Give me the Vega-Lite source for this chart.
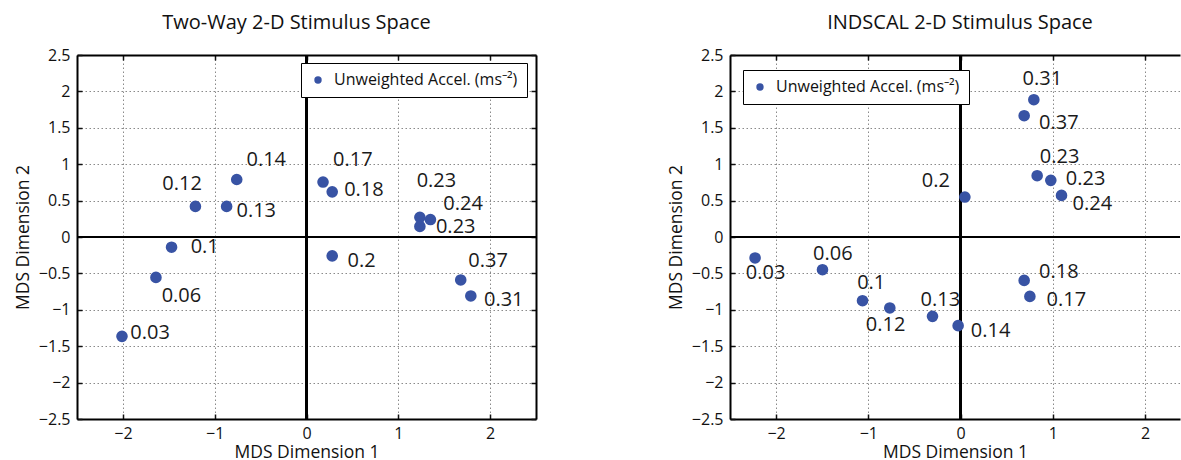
{
  "$schema": "https://vega.github.io/schema/vega-lite/v6.json",
  "padding": {"left": 14, "top": 13, "right": 0, "bottom": 0},
  "bounds": "flush",
  "spacing": 194,
  "config": {
    "font": "Open Sans",
    "view": {"stroke": null},
    "title": {"fontSize": 20, "fontWeight": "normal", "color": "#111", "font": "Open Sans", "offset": 14},
    "axis": {
      "labelFont": "Open Sans", "labelFontSize": 16, "labelColor": "#111",
      "titleFont": "Open Sans", "titleFontSize": 17.5, "titleFontWeight": "normal", "titleColor": "#111",
      "domainColor": "#000", "domainWidth": 2, "tickColor": "#111", "tickWidth": 1.5,
      "gridColor": "#8a8a8a", "gridDash": [1.5, 2.5], "gridWidth": 1, "gridOpacity": 1,
      "labelFlush": false, "labelOverlap": false, "format": "~g"
    },
    "legend": {
      "labelFont": "Open Sans", "labelFontSize": 16, "labelColor": "#111", "labelLimit": 0,
      "strokeColor": "#000", "fillColor": "#fff", "padding": 9, "symbolSize": 55,
      "symbolType": "circle", "labelOffset": 8, "titlePadding": 0
    }
  },
  "datasets": {
    "twoway": [
      {"label": "0.03", "x": -2.01, "y": -1.365, "lx": -1.919, "ly": -1.317, "series": "Unweighted Accel. (ms⁻²)"},
      {"label": "0.06", "x": -1.64, "y": -0.555, "lx": -1.578, "ly": -0.804, "series": "Unweighted Accel. (ms⁻²)"},
      {"label": "0.1", "x": -1.47, "y": -0.14, "lx": -1.262, "ly": -0.14, "series": "Unweighted Accel. (ms⁻²)"},
      {"label": "0.12", "x": -1.21, "y": 0.42, "lx": -1.57, "ly": 0.729, "series": "Unweighted Accel. (ms⁻²)"},
      {"label": "0.13", "x": -0.87, "y": 0.42, "lx": -0.763, "ly": 0.354, "series": "Unweighted Accel. (ms⁻²)"},
      {"label": "0.14", "x": -0.76, "y": 0.79, "lx": -0.654, "ly": 1.055, "series": "Unweighted Accel. (ms⁻²)"},
      {"label": "0.17", "x": 0.18, "y": 0.755, "lx": 0.29, "ly": 1.059, "series": "Unweighted Accel. (ms⁻²)"},
      {"label": "0.18", "x": 0.28, "y": 0.62, "lx": 0.41, "ly": 0.652, "series": "Unweighted Accel. (ms⁻²)"},
      {"label": "0.2", "x": 0.28, "y": -0.26, "lx": 0.447, "ly": -0.323, "series": "Unweighted Accel. (ms⁻²)"},
      {"label": "0.23", "x": 1.235, "y": 0.27, "lx": 1.2, "ly": 0.776, "series": "Unweighted Accel. (ms⁻²)"},
      {"label": "0.23", "x": 1.235, "y": 0.145, "lx": 1.41, "ly": 0.135, "series": "Unweighted Accel. (ms⁻²)"},
      {"label": "0.24", "x": 1.35, "y": 0.24, "lx": 1.49, "ly": 0.455, "series": "Unweighted Accel. (ms⁻²)"},
      {"label": "0.31", "x": 1.79, "y": -0.81, "lx": 1.933, "ly": -0.872, "series": "Unweighted Accel. (ms⁻²)"},
      {"label": "0.37", "x": 1.68, "y": -0.59, "lx": 1.762, "ly": -0.323, "series": "Unweighted Accel. (ms⁻²)"}
    ],
    "indscal": [
      {"label": "0.03", "x": -2.228, "y": -0.288, "lx": -2.329, "ly": -0.493, "series": "Unweighted Accel. (ms⁻²)"},
      {"label": "0.06", "x": -1.497, "y": -0.449, "lx": -1.599, "ly": -0.232, "series": "Unweighted Accel. (ms⁻²)"},
      {"label": "0.1", "x": -1.063, "y": -0.875, "lx": -1.121, "ly": -0.635, "series": "Unweighted Accel. (ms⁻²)"},
      {"label": "0.12", "x": -0.767, "y": -0.975, "lx": -1.027, "ly": -1.207, "series": "Unweighted Accel. (ms⁻²)"},
      {"label": "0.13", "x": -0.304, "y": -1.09, "lx": -0.434, "ly": -0.872, "series": "Unweighted Accel. (ms⁻²)"},
      {"label": "0.14", "x": -0.026, "y": -1.218, "lx": 0.112, "ly": -1.298, "series": "Unweighted Accel. (ms⁻²)"},
      {"label": "0.17", "x": 0.752, "y": -0.816, "lx": 0.933, "ly": -0.859, "series": "Unweighted Accel. (ms⁻²)"},
      {"label": "0.18", "x": 0.69, "y": -0.596, "lx": 0.852, "ly": -0.484, "series": "Unweighted Accel. (ms⁻²)"},
      {"label": "0.2", "x": 0.047, "y": 0.549, "lx": -0.42, "ly": 0.776, "series": "Unweighted Accel. (ms⁻²)"},
      {"label": "0.23", "x": 0.831, "y": 0.842, "lx": 0.86, "ly": 1.096, "series": "Unweighted Accel. (ms⁻²)"},
      {"label": "0.23", "x": 0.979, "y": 0.778, "lx": 1.142, "ly": 0.798, "series": "Unweighted Accel. (ms⁻²)"},
      {"label": "0.24", "x": 1.095, "y": 0.571, "lx": 1.215, "ly": 0.455, "series": "Unweighted Accel. (ms⁻²)"},
      {"label": "0.31", "x": 0.795, "y": 1.886, "lx": 0.672, "ly": 2.172, "series": "Unweighted Accel. (ms⁻²)"},
      {"label": "0.37", "x": 0.69, "y": 1.666, "lx": 0.852, "ly": 1.567, "series": "Unweighted Accel. (ms⁻²)"}
    ]
  },
  "resolve": {"scale": {"color": "independent"}, "legend": {"color": "independent"}},
  "hconcat": [
    {
      "width": 459, "height": 364,
      "title": {"text": "Two-Way 2-D Stimulus Space", "dx": -10},
      "data": {"name": "twoway"},
      "resolve": {"axis": {"x": "independent", "y": "independent"}},
      "layer": [
        {
          "mark": {"type": "rule", "color": "#000", "strokeWidth": 1.6},
          "encoding": {
            "x": {"datum": 0, "type": "quantitative", "scale": {"domain": [-2.5, 2.5], "nice": false, "zero": false},
                  "axis": {"orient": "top", "values": [-2, -1, 0, 1, 2], "labels": false, "title": null, "grid": false, "tickSize": -5, "domain": true}}
          }
        },
        {
          "mark": {"type": "rule", "color": "#000", "strokeWidth": 1.6},
          "encoding": {
            "y": {"datum": 0, "type": "quantitative", "scale": {"domain": [-2.5, 2.5], "nice": false, "zero": false},
                  "axis": {"orient": "right", "values": [-2.5, -2, -1.5, -1, -0.5, 0, 0.5, 1, 1.5, 2, 2.5], "labels": false, "title": null, "grid": false, "tickSize": -5, "domain": true}}
          }
        },
        {
          "mark": {"type": "point", "filled": true, "size": 135, "opacity": 1},
          "encoding": {
            "x": {"field": "x", "type": "quantitative", "scale": {"domain": [-2.5, 2.5], "nice": false, "zero": false},
                  "axis": {"orient": "bottom", "values": [-2, -1, 0, 1, 2], "title": "MDS Dimension 1", "grid": true, "tickSize": -5, "labelPadding": 11, "titlePadding": 2, "domain": true}},
            "y": {"field": "y", "type": "quantitative", "scale": {"domain": [-2.5, 2.5], "nice": false, "zero": false},
                  "axis": {"orient": "left", "values": [-2.5, -2, -1.5, -1, -0.5, 0, 0.5, 1, 1.5, 2, 2.5], "title": "MDS Dimension 2", "grid": true, "tickSize": -5, "labelPadding": 12, "titlePadding": 6, "domain": true}},
            "color": {"field": "series", "type": "nominal", "scale": {"range": ["#3853a4"]},
                      "legend": {"title": null, "orient": "none", "legendX": 224, "legendY": 8}}
          }
        },
        {
          "mark": {"type": "text", "align": "left", "baseline": "middle", "fontSize": 20, "font": "Open Sans", "color": "#1a1a1a"},
          "encoding": {
            "x": {"field": "lx", "type": "quantitative", "scale": {"domain": [-2.5, 2.5], "nice": false, "zero": false}, "axis": null},
            "y": {"field": "ly", "type": "quantitative", "scale": {"domain": [-2.5, 2.5], "nice": false, "zero": false}, "axis": null},
            "text": {"field": "label", "type": "nominal"}
          }
        }
      ]
    },
    {
      "width": 450, "height": 364,
      "title": {"text": "INDSCAL 2-D Stimulus Space", "dx": 5},
      "data": {"name": "indscal"},
      "resolve": {"axis": {"x": "independent", "y": "independent"}},
      "layer": [
        {
          "mark": {"type": "rule", "color": "#000", "strokeWidth": 1.6},
          "encoding": {
            "x": {"datum": 0, "type": "quantitative", "scale": {"domain": [-2.5, 2.38], "nice": false, "zero": false},
                  "axis": {"orient": "top", "values": [-2, -1, 0, 1, 2], "labels": false, "title": null, "grid": false, "tickSize": -5, "domain": true}}
          }
        },
        {
          "mark": {"type": "rule", "color": "#000", "strokeWidth": 1.6},
          "encoding": {
            "y": {"datum": 0, "type": "quantitative", "scale": {"domain": [-2.5, 2.5], "nice": false, "zero": false}, "axis": null}
          }
        },
        {
          "mark": {"type": "point", "filled": true, "size": 135, "opacity": 1},
          "encoding": {
            "x": {"field": "x", "type": "quantitative", "scale": {"domain": [-2.5, 2.38], "nice": false, "zero": false},
                  "axis": {"orient": "bottom", "values": [-2, -1, 0, 1, 2], "title": "MDS Dimension 1", "grid": true, "tickSize": -5, "labelPadding": 11, "titlePadding": 2, "domain": true}},
            "y": {"field": "y", "type": "quantitative", "scale": {"domain": [-2.5, 2.5], "nice": false, "zero": false},
                  "axis": {"orient": "left", "values": [-2.5, -2, -1.5, -1, -0.5, 0, 0.5, 1, 1.5, 2, 2.5], "title": "MDS Dimension 2", "grid": true, "tickSize": -5, "labelPadding": 12, "titlePadding": 6, "domain": true}},
            "color": {"field": "series", "type": "nominal", "scale": {"range": ["#3853a4"]},
                      "legend": {"title": null, "orient": "none", "legendX": 13, "legendY": 15}}
          }
        },
        {
          "mark": {"type": "text", "align": "left", "baseline": "middle", "fontSize": 20, "font": "Open Sans", "color": "#1a1a1a"},
          "encoding": {
            "x": {"field": "lx", "type": "quantitative", "scale": {"domain": [-2.5, 2.38], "nice": false, "zero": false}, "axis": null},
            "y": {"field": "ly", "type": "quantitative", "scale": {"domain": [-2.5, 2.5], "nice": false, "zero": false}, "axis": null},
            "text": {"field": "label", "type": "nominal"}
          }
        }
      ]
    }
  ]
}
